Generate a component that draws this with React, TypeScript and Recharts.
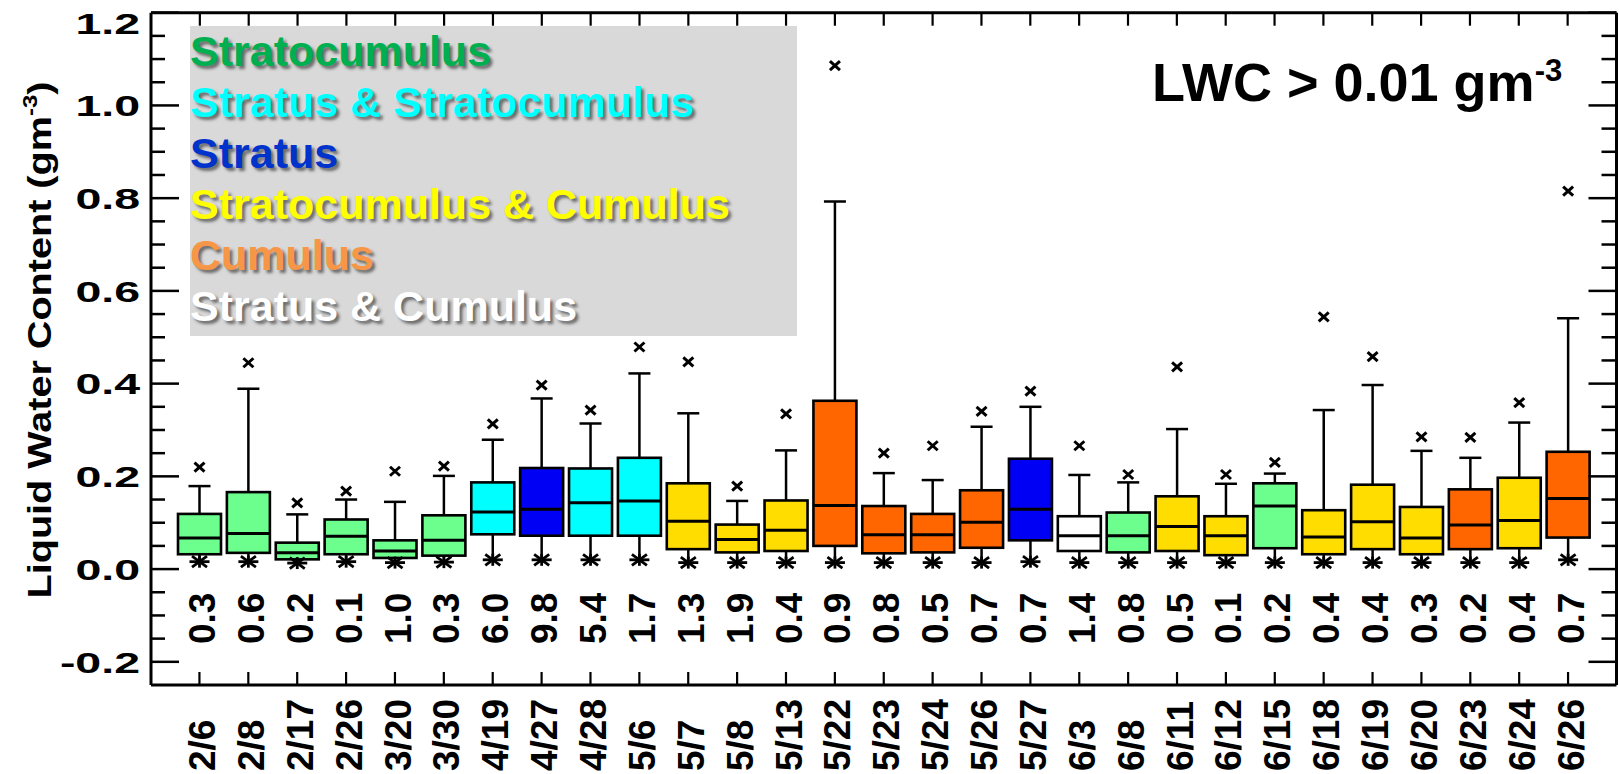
import React from 'react';
import { ComposedChart, Bar, Line, XAxis, YAxis, Legend } from 'recharts';

// ---------- data ----------
const dates = ['2/6', '2/8', '2/17', '2/26', '3/20', '3/30', '4/19', '4/27', '4/28', '5/6', '5/7', '5/8', '5/13', '5/22', '5/23', '5/24', '5/26', '5/27', '6/3', '6/8', '6/11', '6/12', '6/15', '6/18', '6/19', '6/20', '6/23', '6/24', '6/26'];
const counts = [0.3, 0.6, 0.2, 0.1, 1.0, 0.3, 6.0, 9.8, 5.4, 1.7, 1.3, 1.9, 0.4, 0.9, 0.8, 0.5, 0.7, 0.7, 1.4, 0.8, 0.5, 0.1, 0.2, 0.4, 0.4, 0.3, 0.2, 0.4, 0.7];
// 0 Sc, 1 St&Sc, 2 St, 3 Sc&Cu, 4 Cu, 5 St&Cu
const cloudType = [0, 0, 0, 0, 0, 0, 1, 2, 1, 1, 3, 3, 3, 4, 4, 4, 4, 2, 5, 0, 3, 3, 0, 3, 3, 3, 4, 3, 4];
const lowStar = [0.016, 0.016, 0.013, 0.016, 0.014, 0.015, 0.020, 0.020, 0.020, 0.020, 0.014, 0.014, 0.014, 0.014, 0.014, 0.014, 0.014, 0.016, 0.014, 0.014, 0.014, 0.014, 0.014, 0.014, 0.014, 0.014, 0.014, 0.014, 0.020];
const q1 = [0.032, 0.035, 0.021, 0.032, 0.024, 0.029, 0.075, 0.072, 0.072, 0.072, 0.043, 0.036, 0.039, 0.050, 0.034, 0.036, 0.046, 0.062, 0.039, 0.036, 0.039, 0.030, 0.045, 0.032, 0.043, 0.032, 0.043, 0.045, 0.068];
const median = [0.067, 0.077, 0.035, 0.071, 0.039, 0.062, 0.123, 0.129, 0.143, 0.147, 0.103, 0.064, 0.084, 0.137, 0.074, 0.074, 0.101, 0.129, 0.072, 0.072, 0.092, 0.072, 0.136, 0.069, 0.102, 0.067, 0.095, 0.105, 0.152];
const q3 = [0.119, 0.166, 0.057, 0.107, 0.062, 0.116, 0.187, 0.218, 0.217, 0.240, 0.185, 0.096, 0.148, 0.363, 0.136, 0.119, 0.170, 0.238, 0.114, 0.122, 0.157, 0.114, 0.185, 0.127, 0.182, 0.134, 0.172, 0.197, 0.253];
const whiskerHi = [0.179, 0.389, 0.118, 0.150, 0.145, 0.201, 0.279, 0.368, 0.314, 0.422, 0.336, 0.147, 0.256, 0.793, 0.207, 0.192, 0.307, 0.350, 0.203, 0.187, 0.302, 0.184, 0.206, 0.343, 0.397, 0.255, 0.240, 0.316, 0.541];
const maxMark = [0.220, 0.445, 0.143, 0.168, 0.211, 0.222, 0.313, 0.397, 0.343, 0.479, 0.447, 0.179, 0.335, 1.086, 0.250, 0.266, 0.340, 0.384, 0.266, 0.204, 0.436, 0.204, 0.230, 0.544, 0.458, 0.285, 0.284, 0.359, 0.815];

const cloudNames = ['Stratocumulus', 'Stratus & Stratocumulus', 'Stratus', 'Stratocumulus & Cumulus', 'Cumulus', 'Stratus & Cumulus'];
const boxColors = ['#6cff8e', '#00ffff', '#0000f5', '#ffdd00', '#ff6600', '#ffffff'];
const legendTextColors = ['#00b050', '#00ffff', '#0033cc', '#ffff00', '#f79646', '#ffffff'];

const yTicks = [-0.2, -0.15, -0.1, -0.05, 0, 0.05, 0.1, 0.15, 0.2, 0.25, 0.3, 0.35, 0.4, 0.45, 0.5, 0.55, 0.6, 0.65, 0.7, 0.75, 0.8, 0.85, 0.9, 0.95, 1.0, 1.05, 1.1, 1.15, 1.2];
const topTicks = [1, 2, 3, 4, 5, 6, 7, 8, 9, 10, 11, 12, 13, 14, 15, 16, 17, 18, 19, 20, 21, 22, 23, 24, 25, 26, 27, 28, 29];
const yTitle = 'Liquid Water Content (gm';
const unitSup = '-3';
const annotation = 'LWC > 0.01 gm';

const data = dates.map((d, i) => ({
  date: d,
  pos: topTicks[i],
  count: counts[i],
  type: cloudType[i],
  low: lowStar[i],
  q1: q1[i],
  med: median[i],
  q3: q3[i],
  hi: whiskerHi[i],
  xm: maxMark[i],
}));

const FONT = '"Liberation Sans", Arial, Helvetica, sans-serif';
const INK = '#000';

const isMajor = (v: number) => Math.abs(v * 5 - Math.round(v * 5)) < 1e-6;

// ---------- shapes ----------
const BoxShape = (props: any) => {
  const { x, y, width, height, payload } = props;
  if (payload == null || x == null || y == null || height == null) return null;
  const yHigh = Math.min(y, y + height);
  const yLow = Math.max(y, y + height);
  const top = payload.xm;
  const bot = payload.low;
  const py = (v: number) => yHigh + ((yLow - yHigh) * (top - v)) / (top - bot);
  const cx = x + width / 2;
  const bw = width;
  const capW = 22;
  const yq1 = py(payload.q1);
  const yq3 = py(payload.q3);
  const ymed = py(payload.med);
  const yhi = py(payload.hi);
  const ylo = py(payload.low);
  const yxm = py(payload.xm);
  const fill = boxColors[payload.type];
  return (
    <g>
      <line x1={cx} x2={cx} y1={yq3} y2={yhi} stroke={INK} strokeWidth={2.5} />
      <line x1={cx - capW / 2} x2={cx + capW / 2} y1={yhi} y2={yhi} stroke={INK} strokeWidth={2.5} />
      <line x1={cx} x2={cx} y1={yq1} y2={ylo} stroke={INK} strokeWidth={2.5} />
      <rect x={cx - bw / 2} y={yq3} width={bw} height={yq1 - yq3} fill={fill} stroke={INK} strokeWidth={2.6} />
      <line x1={cx - bw / 2} x2={cx + bw / 2} y1={ymed} y2={ymed} stroke={INK} strokeWidth={3} />
      <g stroke={INK} strokeWidth={2.8} strokeLinecap="butt">
        <line x1={cx - 10} x2={cx + 10} y1={ylo} y2={ylo} />
        <line x1={cx - 7.5} x2={cx + 7.5} y1={ylo - 5.5} y2={ylo + 5.5} />
        <line x1={cx - 7.5} x2={cx + 7.5} y1={ylo + 5.5} y2={ylo - 5.5} />
        <line x1={cx} x2={cx} y1={ylo - 6} y2={ylo + 6} />
      </g>
      <g stroke={INK} strokeWidth={3}>
        <line x1={cx - 5} x2={cx + 5} y1={yxm - 4.5} y2={yxm + 4.5} />
        <line x1={cx - 5} x2={cx + 5} y1={yxm + 4.5} y2={yxm - 4.5} />
      </g>
    </g>
  );
};

// ---------- ticks ----------
const YTickLeft = (props: any) => {
  const { x, y, payload } = props;
  const v = payload.value;
  const major = isMajor(v);
  const labelY = v > 1.19 ? y + 10 : y;
  return (
    <g>
      <line x1={x} x2={x + (major ? 28 : 14)} y1={y} y2={y} stroke={INK} strokeWidth={2.5} />
      {major && (
        <g transform={`translate(${x - 11},${labelY}) scale(1.55,1)`}>
          <text x={0} y={0} dy="0.36em" textAnchor="end" fontFamily={FONT} fontWeight={700} fontSize={30} fill={INK}>
            {v.toFixed(1)}
          </text>
        </g>
      )}
    </g>
  );
};

const YTickRight = (props: any) => {
  const { x, y, payload } = props;
  const major = isMajor(payload.value);
  return <line x1={x} x2={x - (major ? 28 : 15)} y1={y} y2={y} stroke={INK} strokeWidth={2.5} />;
};

const XTickTop = (props: any) => {
  const { x, y } = props;
  return <line x1={x} x2={x} y1={y} y2={y + 13} stroke={INK} strokeWidth={2.2} />;
};

const XTickBottom = (props: any) => {
  const { x, y, payload } = props;
  const i = dates.indexOf(payload.value);
  const c = i >= 0 ? counts[i].toFixed(1) : '';
  return (
    <g>
      <line x1={x} x2={x} y1={y} y2={y - 13} stroke={INK} strokeWidth={2.2} />
      <text transform={`translate(${x},${y - 41}) rotate(-90)`} dy="0.42em" textAnchor="start" fontFamily={FONT} fontWeight={700} fontSize={37} fill={INK}>
        {c}
      </text>
      <text transform={`translate(${x},${y + 86}) rotate(-90)`} dy="0.42em" textAnchor="start" fontFamily={FONT} fontWeight={700} fontSize={37} fill={INK}>
        {payload.value}
      </text>
    </g>
  );
};

const YTitle = () => (
  <g transform="translate(51,340) rotate(-90) scale(1.2,1)">
    <text x={0} y={0} textAnchor="middle" fontFamily={FONT} fontWeight={700} fontSize={33} fill={INK}>
      {yTitle}
      <tspan fontSize={20} dy={-14}>{unitSup}</tspan>
      <tspan dy={14}>)</tspan>
    </text>
  </g>
);

const LegendBox = () => (
  <div
    style={{
      width: 607,
      height: 310,
      background: '#d9d9d9',
      fontFamily: FONT,
      fontWeight: 700,
      fontSize: 43,
      lineHeight: '51px',
      textAlign: 'left',
    }}
  >
    {cloudNames.map((n, i) => (
      <div
        key={n}
        style={{
          color: legendTextColors[i],
          height: 51,
          whiteSpace: 'nowrap',
          textShadow: '3px 3px 3px rgba(0,0,0,0.5)',
        }}
      >
        {n}
      </div>
    ))}
  </div>
);

export default function App() {
  return (
    <div style={{ position: 'absolute', left: 0, top: 0, width: 1619, height: 774, background: '#fff' }}>
      <ComposedChart width={1619} height={774} data={data} margin={{ top: 11.7, right: 1.5, bottom: 0, left: 0 }}>
        <XAxis
          xAxisId="b"
          dataKey="date"
          type="category"
          orientation="bottom"
          height={89}
          padding={{ left: 24, right: 24 }}
          interval={0}
          tickSize={0}
          tickMargin={0}
          tickLine={false}
          axisLine={{ stroke: INK, strokeWidth: 3 }}
          tick={<XTickBottom />}
        />
        <XAxis
          xAxisId="t"
          dataKey="pos"
          type="number"
          orientation="top"
          domain={[0, 30]}
          allowDataOverflow
          ticks={topTicks}
          height={1}
          interval={0}
          tickSize={0}
          tickMargin={0}
          tickLine={false}
          axisLine={{ stroke: INK, strokeWidth: 3 }}
          tick={<XTickTop />}
        />
        <YAxis
          yAxisId="l"
          type="number"
          orientation="left"
          domain={[-0.25, 1.2]}
          allowDataOverflow
          ticks={yTicks}
          width={151}
          interval={0}
          tickSize={0}
          tickMargin={0}
          tickLine={false}
          axisLine={{ stroke: INK, strokeWidth: 3 }}
          tick={<YTickLeft />}
          label={<YTitle />}
        />
        <YAxis
          yAxisId="r"
          type="number"
          orientation="right"
          domain={[-0.25, 1.2]}
          allowDataOverflow
          ticks={yTicks}
          width={1}
          interval={0}
          tickSize={0}
          tickMargin={0}
          tickLine={false}
          axisLine={{ stroke: INK, strokeWidth: 3 }}
          tick={<YTickRight />}
        />
        <Legend
          layout="horizontal"
          verticalAlign="middle"
          align="center"
          content={<LegendBox />}
          wrapperStyle={{ left: 190, top: 26, width: 607, height: 310 }}
        />
        <Bar
          xAxisId="b"
          yAxisId="l"
          dataKey={(d: any) => [d.low, d.xm]}
          barSize={43}
          shape={<BoxShape />}
          isAnimationActive={false}
        />
        <Line
          xAxisId="t"
          yAxisId="r"
          dataKey="med"
          stroke="none"
          dot={false}
          activeDot={false}
          legendType="none"
          isAnimationActive={false}
        />
      </ComposedChart>
      <div
        style={{
          position: 'absolute',
          left: 1152,
          top: 55,
          fontFamily: FONT,
          fontWeight: 700,
          fontSize: 54,
          lineHeight: '54px',
          color: INK,
          whiteSpace: 'nowrap',
        }}
      >
        {annotation}
        <span style={{ position: 'relative', top: -20, fontSize: 31 }}>{unitSup}</span>
      </div>
    </div>
  );
}
